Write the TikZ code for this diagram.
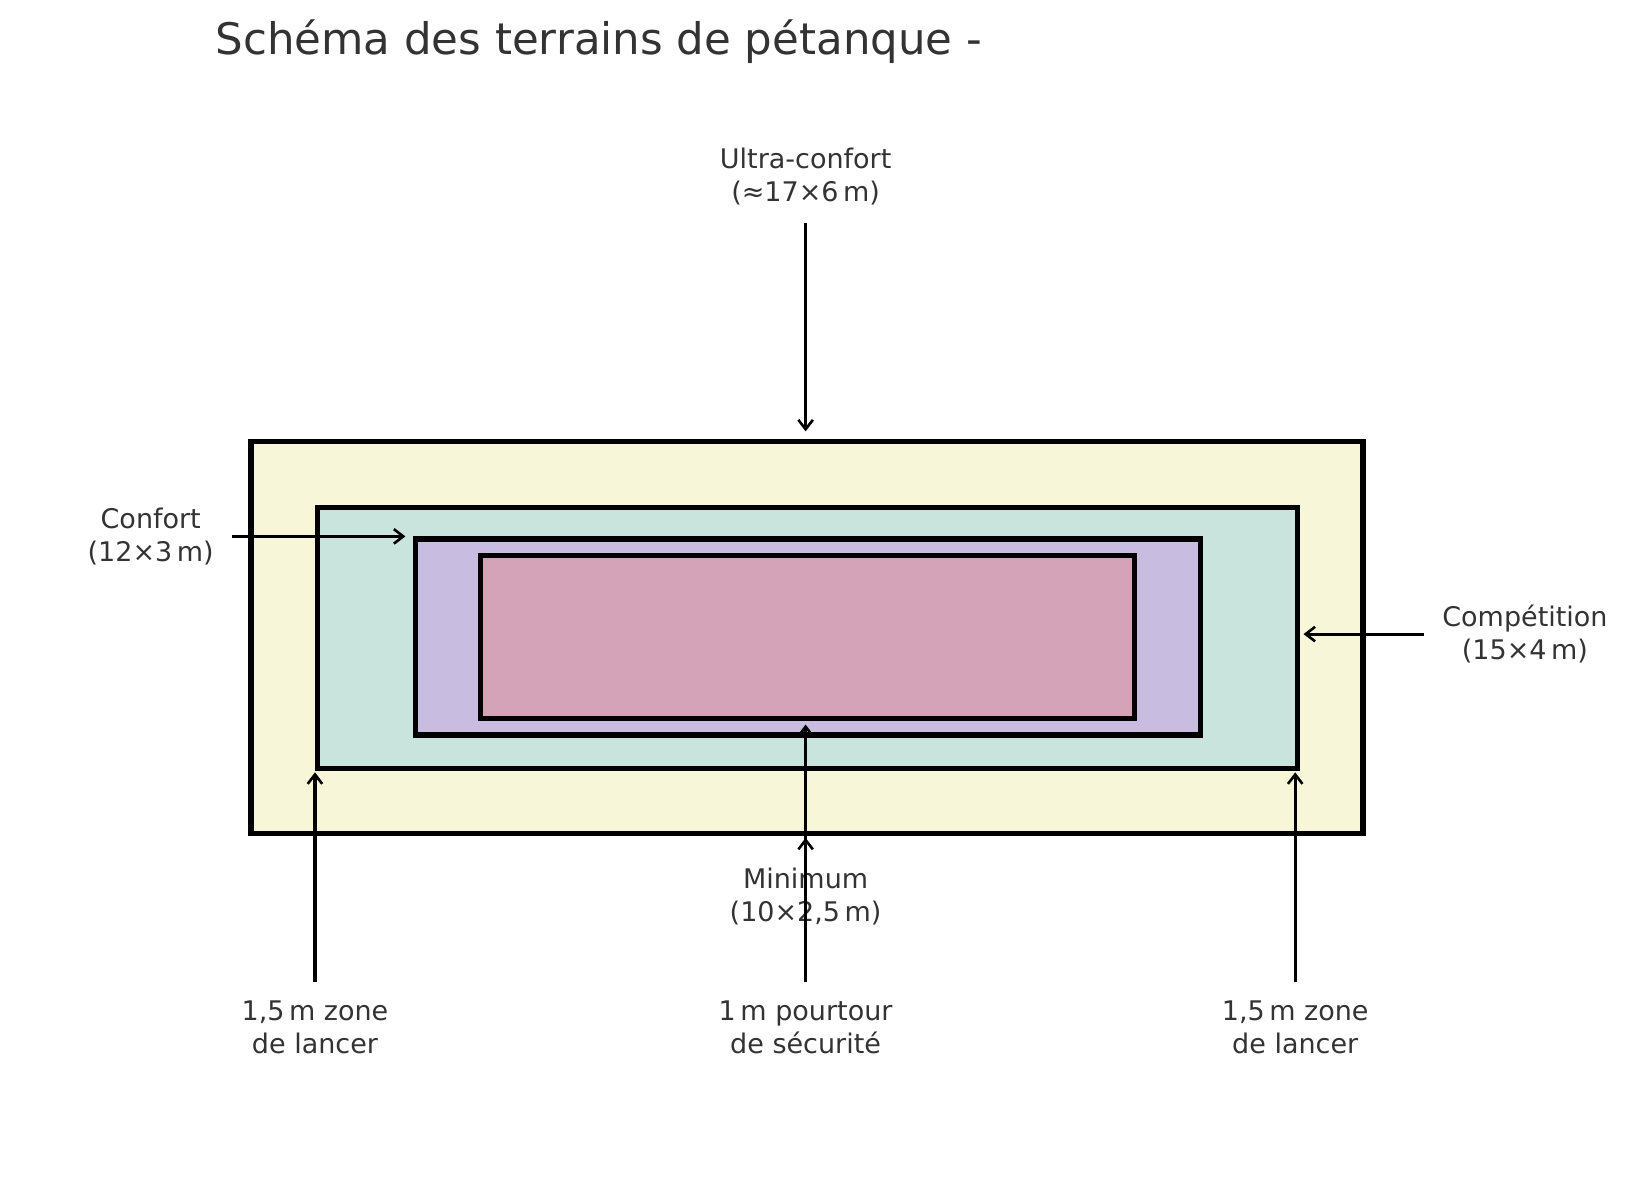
\documentclass[tikz,border=0pt]{standalone}
\usepackage{fontspec}
\setmainfont{DejaVu Sans}
\usetikzlibrary{arrows.meta}
\definecolor{txt}{HTML}{333333}
\definecolor{cyel}{HTML}{F7F6D8}
\definecolor{cteal}{HTML}{C8E4DC}
\definecolor{cpur}{HTML}{C8BCE0}
\definecolor{cpink}{HTML}{D4A3B8}
\begin{document}
\begin{tikzpicture}[x=1.0395bp,y=-1.0395bp,
  zone/.style={draw=black,line width=5.2bp,anchor=north west,inner sep=0pt},
  lab/.style={text=txt,font=\fontsize{27bp}{33bp}\selectfont,align=center},
  arr/.style={-{Straight Barb[length=9.4bp,width=14.5bp,line width=2.6bp]},line width=3.1bp}]
\useasboundingbox (0bp,0bp) rectangle (1632bp,-1180bp);
\node[anchor=west,text=txt,font=\fontsize{43.5bp}{52bp}\selectfont] (title) at (204,40) {Schéma des terrains de pétanque -};
\node[zone,fill=cyel,minimum width=1112bp,minimum height=392bp] (ultra) at (239,422) {};
\node[zone,fill=cteal,minimum width=980bp,minimum height=261bp] (comp) at (303,486) {};
\node[zone,fill=cpur,minimum width=785bp,minimum height=196bp] (conf) at (397,516) {};
\node[zone,fill=cpink,minimum width=654bp,minimum height=163bp] (mini) at (460,532) {};
\node[lab] (lultra) at (775,170) {Ultra-confort\\(≈17×6\,m)};
\node[lab] (lconf) at (145,516) {Confort\\(12×3\,m)};
\node[lab] (lcomp) at (1467,610) {Compétition\\(15×4\,m)};
\node[lab] (lmini) at (775,862) {Minimum\\(10×2,5\,m)};
\node[lab] (lz1) at (303,988) {1,5\,m zone\\de lancer};
\node[lab] (lpour) at (775,988) {1\,m pourtour\\de sécurité};
\node[lab] (lz2) at (1246,988) {1,5\,m zone\\de lancer};
\coordinate (a1) at (775,215); \coordinate (b1) at (775,415);
\coordinate (a2) at (223,516); \coordinate (b2) at (390,516);
\coordinate (a3) at (1370,610); \coordinate (b3) at (1254,610);
\coordinate (a4) at (775,945); \coordinate (b4) at (775,697); \coordinate (c4) at (775,806);
\coordinate (a5) at (303,945); \coordinate (b5) at (303,743);
\coordinate (a6) at (1246,945); \coordinate (b6) at (1246,743);
\draw[arr] (a1) -- (b1);
\draw[arr] (a2) -- (b2);
\draw[arr] (a3) -- (b3);
\draw[arr] (a4) -- (b4);
\draw[arr] (a4) -- (c4);
\draw[arr] (a5) -- (b5);
\draw[arr] (a6) -- (b6);
\end{tikzpicture}
\end{document}
